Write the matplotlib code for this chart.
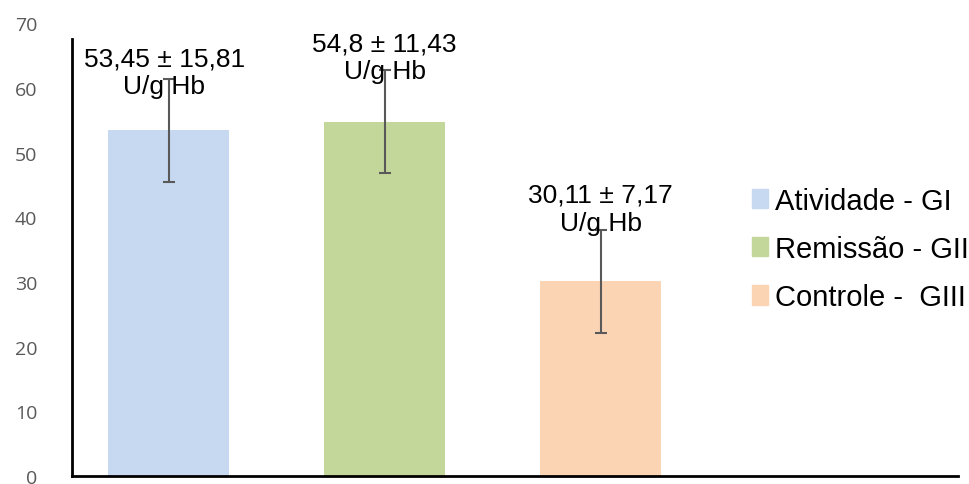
import matplotlib
matplotlib.use("Agg")
import matplotlib.pyplot as plt
import matplotlib.patches as mpatches

# dados do grafico
grupos = ["Atividade - GI", "Remissão - GII", "Controle -  GIII"]
medias = [53.45, 54.8, 30.11]
erros = [8.0, 8.0, 8.0]
rotulos = ["53,45 ± 15,81\nU/g Hb", "54,8 ± 11,43\nU/g Hb", "30,11 ± 7,17\nU/g Hb"]
yticks = [0, 10, 20, 30, 40, 50, 60, 70]

cores = ["#C6D9F1", "#C4D79B", "#FBD4B4"]
rot_x = [-0.02, 0.0, 0.0]
rot_y = [62.4, 64.7, 41.3]

fig = plt.figure(figsize=(9.69, 4.85), dpi=100)
ax = fig.add_axes([0.0743, 0.0165, 0.9143, 0.9335])

x = list(range(len(medias)))
ax.bar(x, medias, width=0.56, color=cores, zorder=1)
ax.errorbar(x, medias, yerr=erros, fmt="none", ecolor="#595959",
            elinewidth=1.5, capsize=4.5, capthick=1.5, zorder=2)

for i in x:
    ax.text(i + rot_x[i], rot_y[i], rotulos[i], ha="center", va="center",
            fontsize=19, family="Liberation Sans", linespacing=1.2, zorder=3)

ax.set_xlim(-0.447, 3.655)
ax.set_ylim(0, 70)
ax.set_yticks(yticks)
ax.set_xticks([])
ax.tick_params(axis="y", length=0, pad=25, labelsize=14, labelcolor="#595959")
for lab in ax.get_yticklabels():
    lab.set_family("Open Sans")

for s in ["top", "right"]:
    ax.spines[s].set_visible(False)
ax.spines["left"].set_bounds(0, 67.5)
ax.spines["left"].set_linewidth(2)
ax.spines["bottom"].set_linewidth(2)

handles = [mpatches.Patch(color=c, label=g) for c, g in zip(cores, grupos)]
fig.legend(handles=handles, loc="center left", bbox_to_anchor=(752 / 969, 1 - 250 / 485),
           frameon=False, borderpad=0, borderaxespad=0, handlelength=0.55,
           handleheight=0.65, handletextpad=0.25, labelspacing=0.7,
           prop={"family": "Liberation Sans", "size": 21})

fig.savefig("out.png", dpi=100)
